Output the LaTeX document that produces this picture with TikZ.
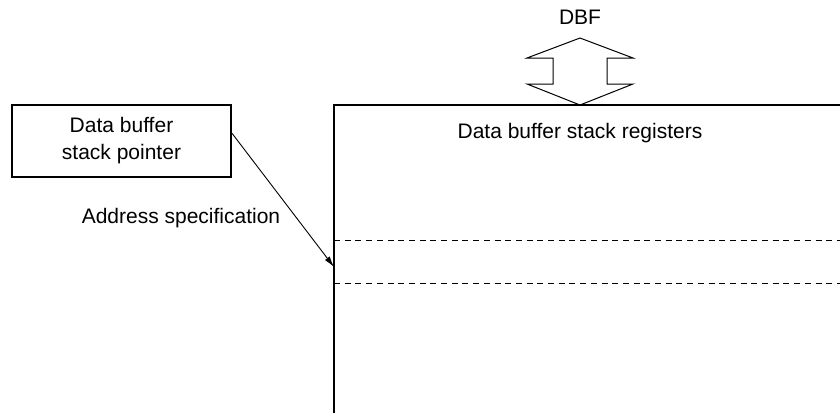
\documentclass[tikz,border=0pt]{standalone}
\usepackage{fontspec}
\setmainfont{Liberation Sans}
\usetikzlibrary{arrows.meta}
\begin{document}
\begin{tikzpicture}[x=1pt,y=-1pt,
  lbl/.style={font=\fontsize{21}{27}\selectfont, inner sep=0pt, align=center},
  ptrbox/.style={draw, line width=2pt, minimum width=219pt, minimum height=72pt, inner sep=0pt, font=\fontsize{21}{27}\selectfont, align=center},
  regline/.style={line width=2pt},
  divline/.style={line width=0.9pt, dash pattern=on 6pt off 4.7pt},
  busarrow/.style={line width=1pt, line join=miter},
  ptrarrow/.style={line width=0.9pt, -{Latex[length=11pt,width=6pt]}}]
\useasboundingbox (0,0) rectangle (840,413);
% register stack
\draw[regline] (334,413) coordinate (stkbl) -- (334,105) coordinate (stktl) -- (840,105) coordinate (stktr);
\draw[divline] (334,240) coordinate (d1l) -- (840,240) coordinate (d1r);
\draw[divline] (334,283) coordinate (d2l) -- (840,283) coordinate (d2r);
\node[lbl] (reglbl) at (580,133) {Data buffer stack registers};
% DBF bus
\node[lbl] (dbf) at (580,17) {DBF};
\draw[busarrow] (580,38) -- (633,58) -- (607,58) -- (607,84) -- (633,84) -- (580,105)
  -- (527,84) -- (553,84) -- (553,58) -- (527,58) -- cycle;
% stack pointer
\node[ptrbox] (sp) at (121.5,141) {Data buffer\\stack pointer};
\coordinate (tgt) at (334,267);
\draw[ptrarrow] (sp.4) -- (tgt);
\node[lbl] (addr) at (181,218) {Address specification};
\end{tikzpicture}
\end{document}
